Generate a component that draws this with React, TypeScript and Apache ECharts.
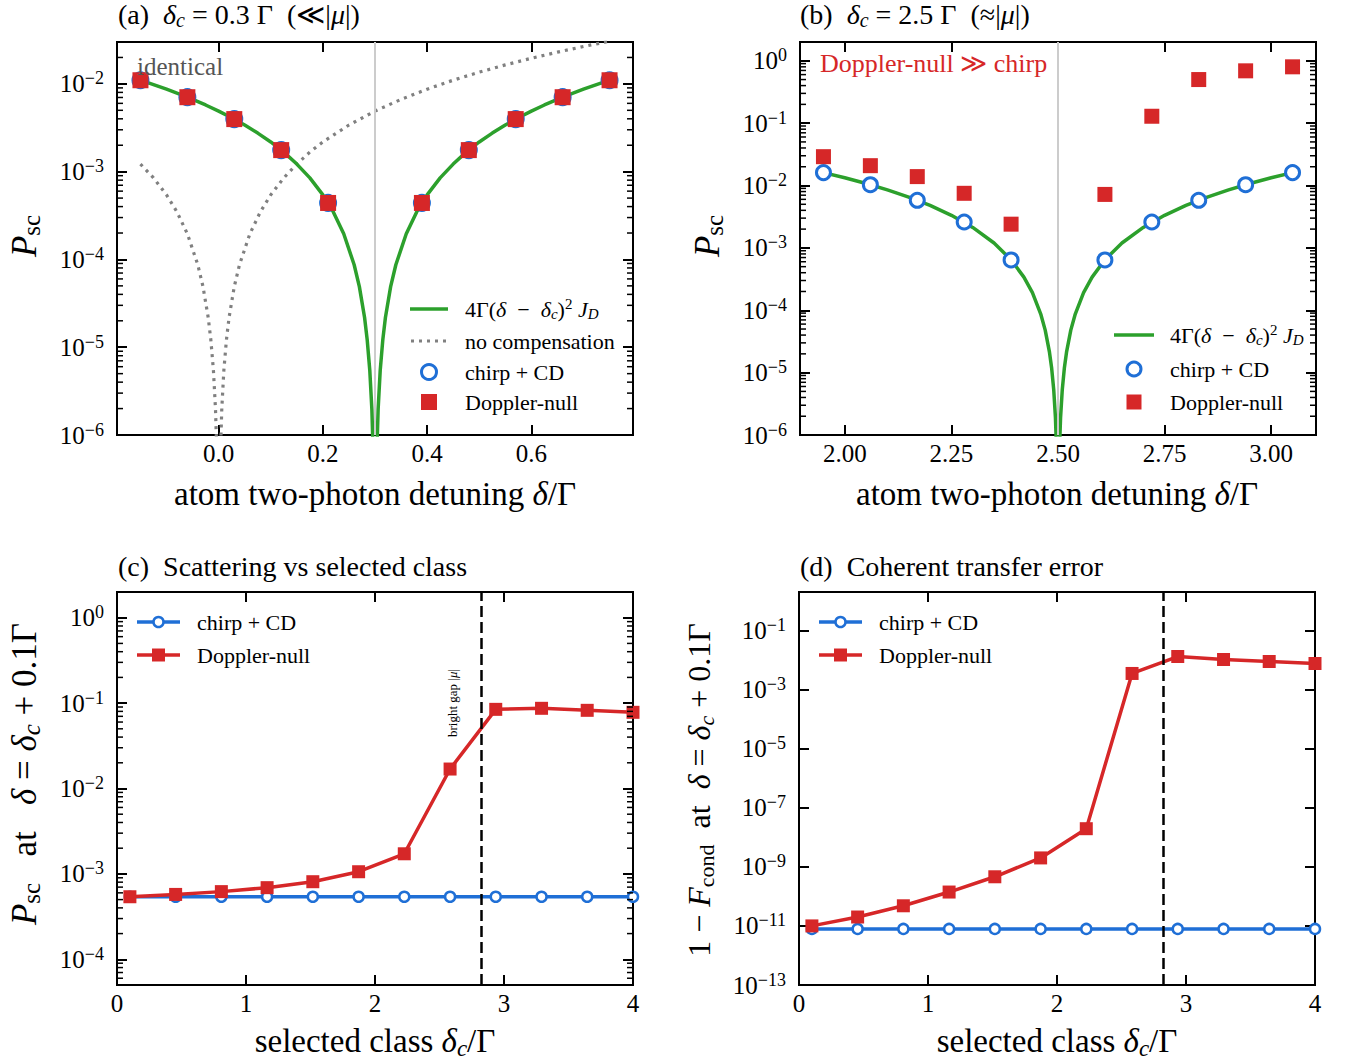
import React, { useEffect, useRef } from 'react';
import * as echarts from 'echarts';

const SERIF = "'Liberation Serif', 'DejaVu Serif', serif";
const GREEN = '#2ca02c';
const BLUE = '#1f6fd6';
const RED = '#d62728';
const GRAY_DOT = '#808080';

// ---------- Panel (a): delta_c = 0.3 ----------
const aDeltaC = 0.3;
const aMarkerX = [-0.15, -0.06, 0.03, 0.12, 0.21, 0.39, 0.48, 0.57, 0.66, 0.75];
const aChirp = [0.0110, 0.00705, 0.00397, 0.00176, 0.00044, 0.00044, 0.00176, 0.00397, 0.00705, 0.0110];
const aDoppler = [0.0110, 0.00705, 0.00397, 0.00176, 0.00044, 0.00044, 0.00176, 0.00397, 0.00705, 0.0110];
const aCurveX = [-0.15, -0.125, -0.1, -0.075, -0.05, -0.025, 0, 0.025, 0.05, 0.075, 0.1, 0.125, 0.15, 0.175, 0.2,
  0.22, 0.24, 0.26, 0.27, 0.28, 0.285, 0.29, 0.294, 0.297, 0.299,
  0.301, 0.303, 0.306, 0.31, 0.315, 0.32, 0.33, 0.34, 0.36, 0.38,
  0.4, 0.425, 0.45, 0.475, 0.5, 0.525, 0.55, 0.575, 0.6, 0.625, 0.65, 0.675, 0.7, 0.725, 0.75];
const aCurveY = [0.01102, 0.00983, 0.0087, 0.00765, 0.00666, 0.00575, 0.0049, 0.00411, 0.0034, 0.00275, 0.00218, 0.00167, 0.00122, 0.00085, 0.000544,
  0.000348, 0.000196, 0.000087, 0.000049, 0.0000218, 0.0000122, 0.00000544, 0.00000196, 0.00000049, 0.000000054,
  0.000000054, 0.00000049, 0.00000196, 0.00000544, 0.0000122, 0.0000218, 0.000049, 0.000087, 0.000196, 0.000348,
  0.000544, 0.00085, 0.00122, 0.00167, 0.00218, 0.00275, 0.0034, 0.00411, 0.0049, 0.00575, 0.00666, 0.00765, 0.0087, 0.00983, 0.01102];
const aNoCompX = [-0.15, -0.125, -0.1, -0.08, -0.06, -0.04, -0.03, -0.02, -0.015, -0.01, -0.006, -0.003, -0.001,
  0.001, 0.003, 0.006, 0.01, 0.015, 0.02, 0.03, 0.04, 0.06, 0.08, 0.1, 0.125, 0.15, 0.175, 0.2, 0.25, 0.3, 0.35,
  0.4, 0.45, 0.5, 0.55, 0.6, 0.65, 0.7, 0.75];
const aNoCompY = [0.00122, 0.00085, 0.000544, 0.000348, 0.000196, 0.000087, 0.000049, 0.0000218, 0.0000122, 0.00000544, 0.00000196, 0.00000049, 0.000000054,
  0.000000054, 0.00000049, 0.00000196, 0.00000544, 0.0000122, 0.0000218, 0.000049, 0.000087, 0.000196, 0.000348, 0.000544, 0.00085, 0.00122, 0.00167, 0.00218, 0.0034, 0.0049, 0.00666,
  0.0087, 0.01102, 0.0136, 0.01646, 0.01958, 0.02298, 0.02666, 0.0306];
const aXTicks = [0, 0.2, 0.4, 0.6];
const aYTicks = [1e-6, 1e-5, 1e-4, 1e-3, 1e-2];

// ---------- Panel (b): delta_c = 2.5 ----------
const bDeltaC = 2.5;
const bMarkerX = [1.95, 2.06, 2.17, 2.28, 2.39, 2.61, 2.72, 2.83, 2.94, 3.05];
const bChirp = [0.0161, 0.0103, 0.0058, 0.0026, 0.00064, 0.00064, 0.0026, 0.0058, 0.0103, 0.0161];
const bDoppler = [0.029, 0.0208, 0.0139, 0.0075, 0.0024, 0.0072, 0.129, 0.50, 0.69, 0.80];
const bCurveX = [1.95, 2.0, 2.05, 2.1, 2.15, 2.2, 2.25, 2.3, 2.35, 2.39, 2.42, 2.44, 2.46, 2.47, 2.48, 2.485, 2.49, 2.494, 2.497, 2.499,
  2.501, 2.503, 2.506, 2.51, 2.515, 2.52, 2.53, 2.54, 2.56, 2.58, 2.61, 2.65, 2.7, 2.75, 2.8, 2.85, 2.9, 2.95, 3.0, 3.05];
const bCurveY = [0.01609, 0.0133, 0.01077, 0.00851, 0.00652, 0.00479, 0.003325, 0.002128, 0.001197, 0.000644, 0.00034, 0.000192, 0.000085, 0.000048, 0.0000213, 0.000012, 0.0000053, 0.0000019, 0.00000048, 0.000000053,
  0.000000053, 0.00000048, 0.0000019, 0.0000053, 0.000012, 0.0000213, 0.000048, 0.000085, 0.000192, 0.00034, 0.000644, 0.001197, 0.002128, 0.003325, 0.00479, 0.00652, 0.00851, 0.01077, 0.0133, 0.01609];
const bXTicks = [2.0, 2.25, 2.5, 2.75, 3.0];
const bYTicks = [1e-6, 1e-5, 1e-4, 1e-3, 1e-2, 1e-1, 1];

// ---------- Panels (c), (d): vs selected class ----------
const classX = [0.1, 0.4545, 0.809, 1.1636, 1.518, 1.873, 2.227, 2.582, 2.936, 3.291, 3.645, 4.0];
const cChirp = [5.4e-4, 5.4e-4, 5.4e-4, 5.4e-4, 5.4e-4, 5.4e-4, 5.4e-4, 5.4e-4, 5.4e-4, 5.4e-4, 5.4e-4, 5.4e-4];
const cDoppler = [5.4e-4, 5.75e-4, 6.2e-4, 6.9e-4, 8.1e-4, 1.06e-3, 1.72e-3, 0.0169, 0.0845, 0.0869, 0.0823, 0.078];
const dChirp = [7.9e-12, 7.9e-12, 7.9e-12, 7.9e-12, 7.9e-12, 7.9e-12, 7.9e-12, 7.9e-12, 7.9e-12, 7.9e-12, 7.9e-12, 7.9e-12];
const dDoppler = [1.0e-11, 2.0e-11, 4.8e-11, 1.4e-10, 4.6e-10, 2.0e-9, 1.95e-8, 3.5e-3, 0.0131, 0.0104, 0.0089, 0.0076];
const brightGap = 2.82;
const cdXTicks = [0, 1, 2, 3, 4];
const cYTicks = [1e-4, 1e-3, 1e-2, 1e-1, 1];
const dYTicks = [1e-13, 1e-11, 1e-9, 1e-7, 1e-5, 1e-3, 1e-1];

// ---------- helpers ----------
const TICK_FONT = 25;
const fontStr = (st: string, size: number) => `${st} ${size}px ${SERIF}`;

function mkRich(F: number, color = '#000') {
  const L = Math.round(F * 1.15);
  const sF = Math.round(F * 0.7);
  const h = Math.max(1, Math.round(L - 0.62 * F));
  const t = (fontStyle: string, size: number, lh: number, va: string) => ({
    fontFamily: SERIF, fontSize: size, fontStyle, lineHeight: lh, color, fill: color,
    font: fontStr(fontStyle, size), verticalAlign: va,
  });
  return {
    n: t('normal', F, L, 'middle'),
    i: t('italic', F, L, 'middle'),
    b: t('normal', sF, h, 'bottom'),
    bi: t('italic', sF, h, 'bottom'),
    p: t('normal', sF, h, 'top'),
  };
}

function minorTicks(lo: number, hi: number) {
  const out: number[] = [];
  for (let e = Math.floor(Math.log10(lo)) - 1; e <= Math.ceil(Math.log10(hi)); e++) {
    for (let k = 2; k <= 9; k++) {
      const v = k * Math.pow(10, e);
      if (v > lo * 1.0001 && v < hi * 0.9999) out.push(v);
    }
  }
  return out;
}

function xAxes(grid: number, min: number, max: number, ticks: number[], fmt: (v: number) => string) {
  const common = {
    type: 'value', gridIndex: grid, min, max,
    axisLine: { show: false, onZero: false }, splitLine: { show: false },
    axisTick: { show: true, inside: true, length: 10, lineStyle: { color: '#000', width: 2 }, customValues: ticks },
  };
  return [
    { ...common, position: 'bottom', axisLabel: { customValues: ticks, formatter: fmt, fontFamily: SERIF, fontSize: TICK_FONT, color: '#000', margin: 6 } },
    { ...common, position: 'top', axisLabel: { show: false } },
  ];
}

function yAxes(grid: number, min: number, max: number, majors: number[]) {
  const fmt = (v: number) => {
    const e = Math.round(Math.log10(v));
    return `{n|10}{p|${e < 0 ? '\u2212' : ''}${Math.abs(e)}}`;
  };
  const common = {
    type: 'log', logBase: 10, gridIndex: grid, min, max,
    axisLine: { show: false, onZero: false }, splitLine: { show: false }, minorTick: { show: false },
    axisTick: { show: true, inside: true, length: 10, lineStyle: { color: '#000', width: 2 }, customValues: majors },
  };
  return [
    { ...common, position: 'left', axisLabel: { customValues: majors, formatter: fmt, rich: mkRich(TICK_FONT), margin: 13 } },
    { ...common, position: 'right', axisLabel: { show: false } },
  ];
}

// minor log ticks drawn on both vertical frame edges through the y scale
function minorSeries(xAxisIndex: number, yAxisIndex: number, xRef: number, minors: number[]) {
  return {
    type: 'custom', xAxisIndex, yAxisIndex, silent: true, z: 10, clip: false,
    data: minors.map((v) => [xRef, v]),
    renderItem: (params: any, api: any) => {
      const p = api.coord([api.value(0), api.value(1)]);
      const cs = params.coordSys;
      const st = { stroke: '#000', lineWidth: 1.5 };
      return {
        type: 'group',
        children: [
          { type: 'line', shape: { x1: cs.x, y1: p[1], x2: cs.x + 6, y2: p[1] }, style: st },
          { type: 'line', shape: { x1: cs.x + cs.width - 6, y1: p[1], x2: cs.x + cs.width, y2: p[1] }, style: st },
        ],
      };
    },
  };
}

function txt(x: number, y: number, text: string, F: number, align = 'left', rot = 0, color = '#000') {
  return {
    type: 'text', x, y, rotation: rot, silent: true, z: 100,
    style: {
      text, rich: mkRich(F, color), fontFamily: SERIF, fontSize: F, font: fontStr('normal', F), fill: color,
      align, verticalAlign: 'middle', textAlign: align, textVerticalAlign: 'middle',
    },
  };
}

const zip = (xs: number[], ys: number[]) => xs.map((x, i) => [x, ys[i]]);

function legendLine(x1: number, x2: number, y: number, color: string, width: number, dash?: number[]) {
  return { type: 'line', silent: true, z: 100, shape: { x1, y1: y, x2, y2: y }, style: { stroke: color, lineWidth: width, lineDash: dash || null } };
}
function legendCircle(cx: number, cy: number, r: number, lw: number) {
  return { type: 'circle', silent: true, z: 101, shape: { cx, cy, r }, style: { fill: '#fff', stroke: BLUE, lineWidth: lw } };
}
function legendSquare(cx: number, cy: number, s: number) {
  return { type: 'rect', silent: true, z: 101, shape: { x: cx - s / 2, y: cy - s / 2, width: s, height: s }, style: { fill: RED } };
}

const hollow = (size: number, bw: number) => ({
  type: 'scatter', symbol: 'circle', symbolSize: size,
  itemStyle: { color: '#fff', borderColor: BLUE, borderWidth: bw, opacity: 1 },
});
const square = (size: number) => ({
  type: 'scatter', symbol: 'rect', symbolSize: size, itemStyle: { color: RED, opacity: 1 },
});

function buildOption() {
  const grids = [
    { left: 117, top: 42, width: 516, height: 393 },
    { left: 800, top: 42, width: 516, height: 393 },
    { left: 117, top: 592, width: 516, height: 393 },
    { left: 799, top: 592, width: 516, height: 393 },
  ].map((g) => ({ ...g, show: true, borderColor: '#000', borderWidth: 2, backgroundColor: 'transparent', containLabel: false, outerBoundsMode: 'none' }));

  const xAxis = [
    ...xAxes(0, -0.195, 0.795, aXTicks, (v) => v.toFixed(1)),
    ...xAxes(1, 1.895, 3.105, bXTicks, (v) => v.toFixed(2)),
    ...xAxes(2, 0, 4, cdXTicks, (v) => String(Math.round(v))),
    ...xAxes(3, 0, 4, cdXTicks, (v) => String(Math.round(v))),
  ];
  const yAxis = [
    ...yAxes(0, 1e-6, 0.03, aYTicks),
    ...yAxes(1, 1e-6, 2, bYTicks),
    ...yAxes(2, 5e-5, 2, cYTicks),
    ...yAxes(3, 1e-13, 2, dYTicks),
  ];

  const vline = (x: number, color: string, width: number, type: any) => ({
    silent: true, symbol: ['none', 'none'], label: { show: false },
    lineStyle: { color, width, type }, emphasis: { disabled: true }, data: [{ xAxis: x }],
  });

  const series: any[] = [
    minorSeries(0, 0, 0.3, minorTicks(1e-6, 0.03)),
    minorSeries(2, 2, 2.5, minorTicks(1e-6, 2)),
    minorSeries(4, 4, 2, minorTicks(5e-5, 2)),
    // (a)
    {
      type: 'line', name: 'no compensation', xAxisIndex: 0, yAxisIndex: 0, data: zip(aNoCompX, aNoCompY),
      showSymbol: false, symbol: 'none', z: 2, lineStyle: { color: GRAY_DOT, width: 3.2, type: [3, 5] },
      markLine: vline(aDeltaC, '#cccccc', 2, 'solid'),
    },
    {
      type: 'line', name: '4Γ(δ−δc)²J_D', xAxisIndex: 0, yAxisIndex: 0, data: zip(aCurveX, aCurveY),
      showSymbol: false, symbol: 'none', z: 3, lineStyle: { color: GREEN, width: 3.5 },
    },
    { ...hollow(15, 3), name: 'chirp + CD', xAxisIndex: 0, yAxisIndex: 0, data: zip(aMarkerX, aChirp), z: 4 },
    { ...square(16), name: 'Doppler-null', xAxisIndex: 0, yAxisIndex: 0, data: zip(aMarkerX, aDoppler), z: 5 },
    // (b)
    {
      type: 'line', name: '4Γ(δ−δc)²J_D', xAxisIndex: 2, yAxisIndex: 2, data: zip(bCurveX, bCurveY),
      showSymbol: false, symbol: 'none', z: 3, lineStyle: { color: GREEN, width: 3.5 },
      markLine: vline(bDeltaC, '#cccccc', 2, 'solid'),
    },
    { ...hollow(14, 3), name: 'chirp + CD', xAxisIndex: 2, yAxisIndex: 2, data: zip(bMarkerX, bChirp), z: 4 },
    { ...square(15), name: 'Doppler-null', xAxisIndex: 2, yAxisIndex: 2, data: zip(bMarkerX, bDoppler), z: 5 },
    // (c)
    {
      type: 'line', name: 'chirp + CD', xAxisIndex: 4, yAxisIndex: 4, data: zip(classX, cChirp),
      symbol: 'circle', symbolSize: 10, showSymbol: true, z: 3,
      lineStyle: { color: BLUE, width: 3.5 }, itemStyle: { color: '#fff', borderColor: BLUE, borderWidth: 2.5 },
      markLine: vline(brightGap, '#000', 2.5, [11, 5]),
    },
    {
      type: 'line', name: 'Doppler-null', xAxisIndex: 4, yAxisIndex: 4, data: zip(classX, cDoppler),
      symbol: 'rect', symbolSize: 13, showSymbol: true, z: 4,
      lineStyle: { color: RED, width: 3.5 }, itemStyle: { color: RED },
    },
    // (d)
    {
      type: 'line', name: 'chirp + CD', xAxisIndex: 6, yAxisIndex: 6, data: zip(classX, dChirp),
      symbol: 'circle', symbolSize: 10, showSymbol: true, z: 3,
      lineStyle: { color: BLUE, width: 3.5 }, itemStyle: { color: '#fff', borderColor: BLUE, borderWidth: 2.5 },
      markLine: vline(brightGap, '#000', 2.5, [11, 5]),
    },
    {
      type: 'line', name: 'Doppler-null', xAxisIndex: 6, yAxisIndex: 6, data: zip(classX, dDoppler),
      symbol: 'rect', symbolSize: 13, showSymbol: true, z: 4,
      lineStyle: { color: RED, width: 3.5 }, itemStyle: { color: RED },
    },
  ];

  const TITLE = 28;
  const AXN = 33;
  const LEG = 22;
  const yLabelC = '{i|P}{b|sc}{n|   at   }{i|δ}{n| = }{i|δ}{bi|c}{n| + 0.1Γ}';
  const yLabelD = '{n|1 − }{i|F}{b|cond}{n|  at  }{i|δ}{n| = }{i|δ}{bi|c}{n| + 0.1Γ}';
  const curveLabel = '{n|4Γ(}{i|δ}{n|  −  }{i|δ}{bi|c}{n|)}{p|2}{n| }{i|J}{bi|D}';

  const graphic: any[] = [
    // titles
    txt(118, 14, '{n|(a)  }{i|δ}{bi|c}{n| = 0.3 Γ  (≪|}{i|μ}{n||)}', TITLE),
    txt(800, 14, '{n|(b)  }{i|δ}{bi|c}{n| = 2.5 Γ  (≈|}{i|μ}{n||)}', TITLE),
    txt(118, 566, '{n|(c)  Scattering vs selected class}', TITLE),
    txt(800, 566, '{n|(d)  Coherent transfer error}', TITLE),
    // axis names
    txt(375, 494, '{n|atom two-photon detuning }{i|δ}{n|/Γ}', AXN, 'center'),
    txt(1057, 494, '{n|atom two-photon detuning }{i|δ}{n|/Γ}', AXN, 'center'),
    txt(375, 1041, '{n|selected class }{i|δ}{bi|c}{n|/Γ}', AXN, 'center'),
    txt(1057, 1041, '{n|selected class }{i|δ}{bi|c}{n|/Γ}', AXN, 'center'),
    txt(24, 236, '{i|P}{b|sc}', 35, 'center', Math.PI / 2),
    txt(707, 236, '{i|P}{b|sc}', 35, 'center', Math.PI / 2),
    txt(24, 774, yLabelC, 35, 'center', Math.PI / 2),
    txt(699, 790, yLabelD, 32, 'center', Math.PI / 2),
    // annotations
    txt(137, 66, '{n|identical}', 25, 'left', 0, '#555555'),
    txt(820, 63, '{n|Doppler-null ≫ chirp}', 26, 'left', 0, RED),
    txt(452, 703, '{n|bright gap |}{i|μ}{n||}', 13, 'center', Math.PI / 2),
    // legend (a)
    legendLine(410, 448, 309, GREEN, 3.5),
    legendLine(411, 448, 341, GRAY_DOT, 3.2, [3, 5]),
    legendCircle(429, 372, 7.5, 3),
    legendSquare(429, 402, 16),
    txt(465, 309, curveLabel, LEG),
    txt(465, 341, '{n|no compensation}', LEG),
    txt(465, 372, '{n|chirp + CD}', LEG),
    txt(465, 402, '{n|Doppler-null}', LEG),
    // legend (b)
    legendLine(1114, 1154, 335, GREEN, 3.5),
    legendCircle(1134, 369, 7, 3),
    legendSquare(1134, 402, 15),
    txt(1170, 335, curveLabel, LEG),
    txt(1170, 369, '{n|chirp + CD}', LEG),
    txt(1170, 402, '{n|Doppler-null}', LEG),
    // legend (c)
    legendLine(137, 180, 622, BLUE, 3.5),
    legendCircle(158.5, 622, 5, 2.5),
    legendLine(137, 180, 655, RED, 3.5),
    legendSquare(158.5, 655, 13),
    txt(197, 622, '{n|chirp + CD}', LEG),
    txt(197, 655, '{n|Doppler-null}', LEG),
    // legend (d)
    legendLine(819, 862, 622, BLUE, 3.5),
    legendCircle(840.5, 622, 5, 2.5),
    legendLine(819, 862, 655, RED, 3.5),
    legendSquare(840.5, 655, 13),
    txt(879, 622, '{n|chirp + CD}', LEG),
    txt(879, 655, '{n|Doppler-null}', LEG),
  ];

  return {
    animation: false,
    backgroundColor: '#ffffff',
    textStyle: { fontFamily: SERIF },
    grid: grids,
    xAxis,
    yAxis,
    series,
    graphic,
  };
}

export default function App() {
  const ref = useRef<HTMLDivElement>(null);
  useEffect(() => {
    if (!ref.current) return;
    const chart = echarts.init(ref.current, null, { renderer: 'svg' });
    chart.setOption(buildOption() as any);
    return () => chart.dispose();
  }, []);
  return (
    <div
      ref={ref}
      style={{ position: 'absolute', left: 0, top: 0, width: 1351, height: 1061, background: '#fff' }}
    />
  );
}
